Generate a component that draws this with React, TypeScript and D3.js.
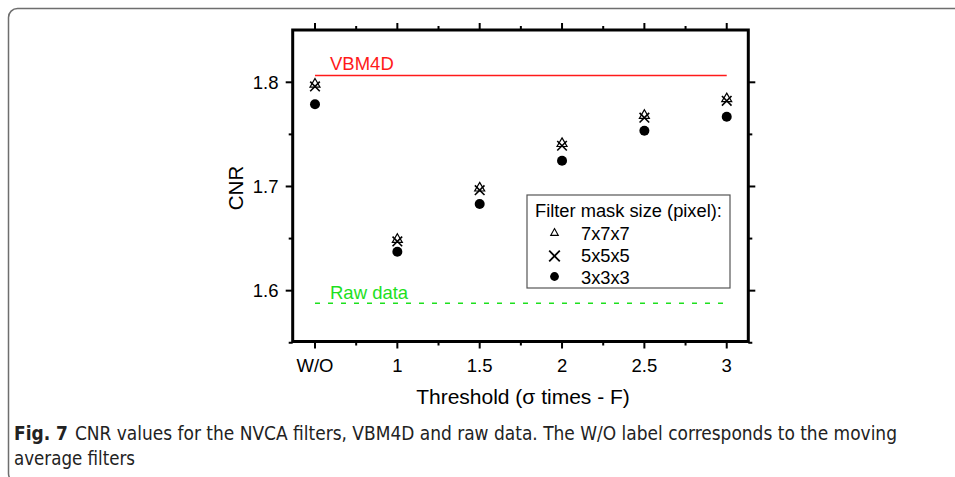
import React from "react";
import * as d3 from "d3";

const xTickValues = [0.5, 1, 1.5, 2, 2.5, 3];
const xTickLabels = ["W/O", "1", "1.5", "2", "2.5", "3"];
const xMinorTicks = [0.75, 1.25, 1.75, 2.25, 2.75];
const yTickValues = [1.6, 1.7, 1.8];
const yMinorTicks = [1.55, 1.65, 1.75];

const thresholds = [0.5, 1, 1.5, 2, 2.5, 3];
const mask7 = [1.7995, 1.6505, 1.6998, 1.7425, 1.7695, 1.7855];
const mask5 = [1.796, 1.6472, 1.6964, 1.7391, 1.766, 1.7822];
const mask3 = [1.779, 1.6374, 1.6832, 1.7247, 1.7535, 1.7669];

const vbm4dValue = 1.8065;
const rawValue = 1.5879;

const legendTitle = "Filter mask size (pixel):";
const legendLabels = ["7x7x7", "5x5x5", "3x3x3"];

const W = 955;
const H = 477;
const plot = { left: 292.7, right: 748.3, top: 30, bottom: 341.5 };

const x = d3.scaleLinear().domain([0.3646, 3.131]).range([plot.left, plot.right]);
const y = d3.scaleLinear().domain([1.5512, 1.8502]).range([plot.bottom, plot.top]);

const FONT = "'Liberation Sans', Arial, Helvetica, sans-serif";
const CAPFONT = "'Liberation Sans Narrow', 'DejaVu Sans Condensed', 'Open Sans', sans-serif";

function Triangle({ cx, cy, hw, hh, sw }: { cx: number; cy: number; hw: number; hh: number; sw: number }) {
  const p = d3.path();
  p.moveTo(cx, cy - hh);
  p.lineTo(cx + hw, cy + hh);
  p.lineTo(cx - hw, cy + hh);
  p.closePath();
  return <path d={p.toString()} fill="white" stroke="black" strokeWidth={sw} />;
}

function Cross({ cx, cy, s, sw }: { cx: number; cy: number; s: number; sw: number }) {
  return (
    <g stroke="black" strokeWidth={sw}>
      <line x1={cx - s} y1={cy - s} x2={cx + s} y2={cy + s} />
      <line x1={cx - s} y1={cy + s} x2={cx + s} y2={cy - s} />
    </g>
  );
}

export default function App() {
  const axisW = 3;
  const tickMajor = 7;
  const tickMinor = 4;
  const lineX1 = x(thresholds[0]);
  const lineX2 = x(thresholds[thresholds.length - 1]);
  return (
    <svg
      width={W}
      height={H}
      style={{ position: "absolute", left: 0, top: 0, background: "white" }}
      fontFamily={FONT}
    >
      {/* frame */}
      <rect x={8.5} y={8.5} width={1000} height={474} rx={9} ry={9} fill="white" stroke="#6e6e6e" strokeWidth={1.5} />

      {/* reference lines */}
      <line x1={lineX1} x2={lineX2} y1={y(vbm4dValue)} y2={y(vbm4dValue)} stroke="#ff1a1a" strokeWidth={1.5} />
      <text x={330} y={70} fill="#ff1a1a" fontSize={18.5}>VBM4D</text>
      <line x1={lineX1} x2={lineX2} y1={y(rawValue)} y2={y(rawValue)} stroke="#1ee01e" strokeWidth={1.3} strokeDasharray="5,8" />
      <text x={330} y={299} fill="#1ee01e" fontSize={18.5}>Raw data</text>

      {/* data: 3x3x3 circles */}
      {thresholds.map((t, i) => (
        <circle key={"c" + i} cx={x(t)} cy={y(mask3[i])} r={5} fill="black" />
      ))}
      {/* 7x7x7 triangles */}
      {thresholds.map((t, i) => (
        <Triangle key={"t" + i} cx={x(t)} cy={y(mask7[i])} hw={5} hh={4.3} sw={1.2} />
      ))}
      {/* 5x5x5 crosses */}
      {thresholds.map((t, i) => (
        <Cross key={"x" + i} cx={x(t)} cy={y(mask5[i])} s={4.8} sw={1.6} />
      ))}

      {/* axes box */}
      <rect x={plot.left} y={plot.top} width={plot.right - plot.left} height={plot.bottom - plot.top} fill="none" stroke="black" strokeWidth={axisW} />

      {/* x ticks bottom & top */}
      {xTickValues.map((v, i) => (
        <g key={"xt" + i} stroke="black" strokeWidth={2}>
          <line x1={x(v)} x2={x(v)} y1={plot.bottom} y2={plot.bottom + tickMajor} />
          <line x1={x(v)} x2={x(v)} y1={plot.top} y2={plot.top - tickMajor} />
        </g>
      ))}
      {xMinorTicks.map((v, i) => (
        <g key={"xm" + i} stroke="black" strokeWidth={2}>
          <line x1={x(v)} x2={x(v)} y1={plot.bottom} y2={plot.bottom + tickMinor} />
          <line x1={x(v)} x2={x(v)} y1={plot.top} y2={plot.top - tickMinor} />
        </g>
      ))}
      {xTickValues.map((v, i) => (
        <text key={"xl" + i} x={x(v)} y={372} fontSize={18.5} textAnchor="middle" fill="black">
          {xTickLabels[i]}
        </text>
      ))}

      {/* y ticks left & right */}
      {yTickValues.map((v, i) => (
        <g key={"yt" + i} stroke="black" strokeWidth={2}>
          <line x1={plot.left} x2={plot.left - tickMajor} y1={y(v)} y2={y(v)} />
          <line x1={plot.right} x2={plot.right + tickMajor} y1={y(v)} y2={y(v)} />
        </g>
      ))}
      {yMinorTicks.map((v, i) => (
        <g key={"ym" + i} stroke="black" strokeWidth={2}>
          <line x1={plot.left} x2={plot.left - tickMinor} y1={y(v)} y2={y(v)} />
          <line x1={plot.right} x2={plot.right + tickMinor} y1={y(v)} y2={y(v)} />
        </g>
      ))}
      {yTickValues.map((v, i) => (
        <text key={"yl" + i} x={278.5} y={y(v) + 6.7} fontSize={18.5} textAnchor="end" fill="black">
          {d3.format(".1f")(v)}
        </text>
      ))}

      {/* axis titles */}
      <text x={523} y={404} fontSize={21} textAnchor="middle" fill="black">Threshold (σ times - F)</text>
      <text transform="translate(242.5,188) rotate(-90)" fontSize={20.5} textAnchor="middle" fill="black">CNR</text>

      {/* legend */}
      <rect x={527} y={195} width={203} height={93} fill="white" stroke="#555" strokeWidth={1.2} />
      <text x={535} y={217} fontSize={18.3} fill="black">{legendTitle}</text>
      <Triangle cx={554.5} cy={232} hw={3.8} hh={3.4} sw={1.1} />
      <Cross cx={554.5} cy={256} s={5.3} sw={1.8} />
      <circle cx={554.5} cy={276.5} r={4.4} fill="black" />
      {legendLabels.map((l, i) => (
        <text key={"lg" + i} x={581} y={[239.5, 262, 283.5][i]} fontSize={18.3} fill="black">{l}</text>
      ))}

      {/* caption */}
      <text x={14} y={440} fontSize={19} fill="#222" fontFamily={CAPFONT} fontStretch="condensed" textLength={883} lengthAdjust="spacingAndGlyphs">
        <tspan fontWeight="bold">Fig. 7</tspan>
        <tspan dx={7}>{"CNR values for the NVCA filters, VBM4D and raw data. The W/O label corresponds to the moving"}</tspan>
      </text>
      <text x={14} y={465} fontSize={19} fill="#222" fontFamily={CAPFONT} fontStretch="condensed" textLength={121} lengthAdjust="spacingAndGlyphs">
        average filters
      </text>
    </svg>
  );
}
